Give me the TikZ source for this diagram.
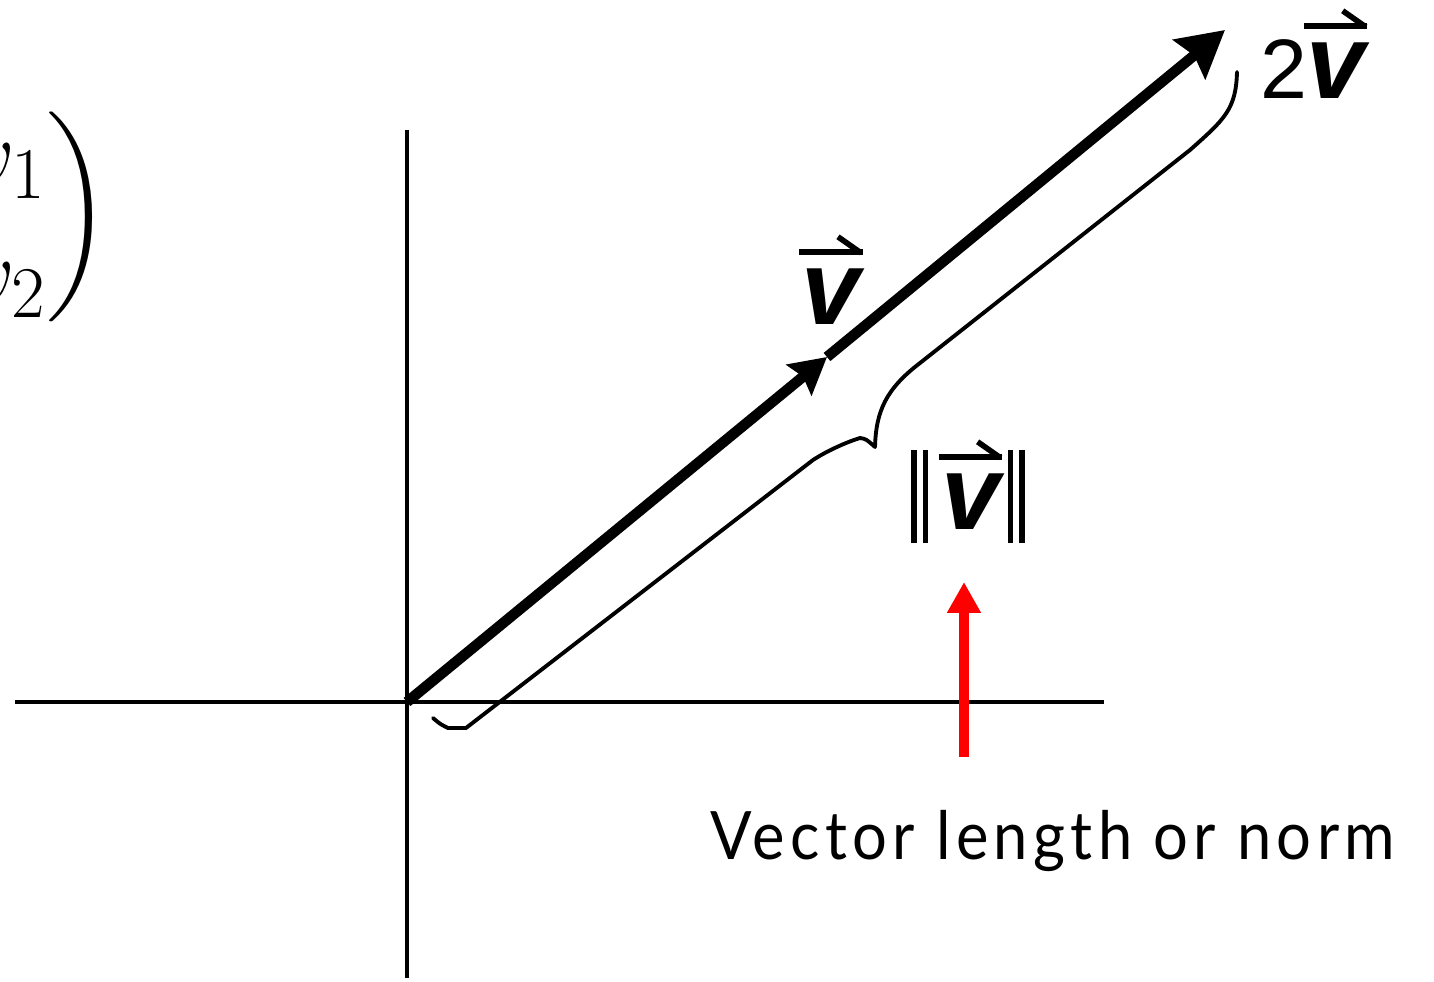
\documentclass[tikz,border=0pt]{standalone}
\usepackage{amsmath}
\usepackage{fontspec}
\usepackage{tikz}
\usetikzlibrary{arrows.meta}
\newfontfamily\lblfont{Liberation Sans}
\newfontfamily\capfont[FakeStretch=0.92, LetterSpace=8]{Lato}
% harpoon accent and the vector letter
\newcommand{\harp}{\rule{18pt}{1.8pt}\llap{\rotatebox[origin=rb]{-35}{\rule{8pt}{1.6pt}}}}
\newcommand{\vv}{\vbox{\offinterlineskip\halign{\hfil##\hfil\cr\harp\cr
  \noalign{\kern4pt}\lblfont\bfseries\itshape v\cr}}}
\newcommand{\nbar}{\rule[-3.7pt]{1.6pt}{26.4pt}\hspace{1.7pt}\rule[-3.7pt]{1.6pt}{26.4pt}}
\begin{document}
\begin{tikzpicture}[
  axis/.style={line width=1.4pt},
  vec/.style={line width=3pt, -{Stealth[length=4.6mm, width=5mm, inset=0.6mm]}},
  midvec/.style={line width=3pt, -{Stealth[length=3.6mm, width=3.9mm, inset=0.5mm]}},
  brace/.style={line width=1.1pt, line join=round, line cap=round},
  redarrow/.style={line width=2.6pt, red, -{Triangle[length=3.1mm, width=3.2mm]}},
  big/.style={font=\fontsize{30}{36}\selectfont, inner sep=0}]
  \clip (0,0) rectangle (14.34,9.81);
  % axes
  \coordinate (O) at (4.07,2.79);
  \coordinate (xl) at (0.15,2.79);
  \coordinate (xr) at (11.04,2.79);
  \coordinate (yt) at (4.07,8.51);
  \coordinate (yb) at (4.07,0.03);
  \draw[axis] (xl) -- (xr);
  \draw[axis] (yb) -- (yt);
  % the vector and 2 times the vector
  \coordinate (M) at (8.27,6.24);
  \coordinate (T) at (12.25,9.51);
  \draw[midvec] (O) -- (M);
  \draw[vec] (M) -- (T);
  % brace along 2v
  \draw[brace] (4.33,2.63) .. controls (4.40,2.57) .. (4.48,2.53) -- (4.66,2.53)
    -- (8.13,5.21) .. controls (8.30,5.32) and (8.50,5.40) .. (8.60,5.43)
    .. controls (8.66,5.42) .. (8.75,5.34)
    .. controls (8.76,5.70) and (8.86,5.92) .. (9.20,6.18) -- (11.90,8.31)
    .. controls (12.25,8.62) and (12.36,8.72) .. (12.37,9.09);
  % labels
  \node[big, anchor=base] (vlab) at (8.31,6.56) {\vv};
  \node[big, anchor=base west] (twov) at (12.60,8.82)
    {\fontsize{24}{28}\selectfont\lblfont 2\kern-1pt\fontsize{30}{36}\selectfont\vv};
  \node[big, anchor=base] (norm) at (9.68,4.51) {\nbar\hspace{3pt}\vv\hspace{1.5pt}\nbar};
  \node[anchor=east, inner sep=0, font=\fontsize{28}{34}\selectfont] (vmat) at (1.12,7.64)
    {$\biggl(\begin{matrix} v_1\\ v_2\end{matrix}\biggr)$};
  % pointer to the norm
  \coordinate (rb) at (9.64,2.24);
  \coordinate (rt) at (9.64,3.99);
  \draw[redarrow] (rb) -- (rt);
  \node[anchor=base west, inner sep=0, font=\capfont\fontsize{19}{23}\selectfont] (cap)
    at (7.10,1.21) {Vector length or norm};
\end{tikzpicture}
\end{document}
